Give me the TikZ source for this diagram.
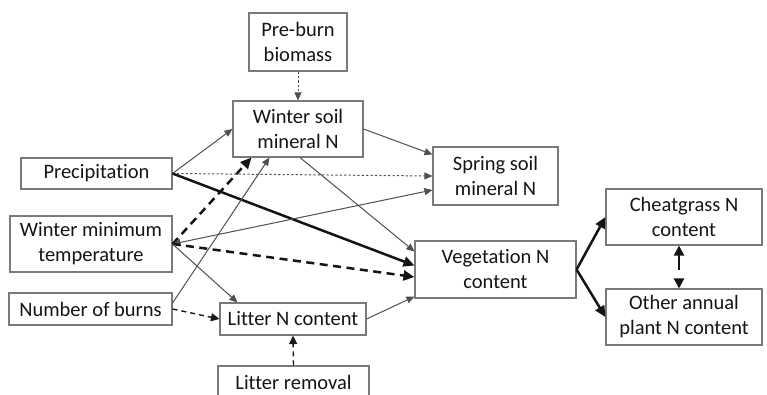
\documentclass[tikz,border=0pt]{standalone}
\usepackage{fontspec}
\setmainfont[Ligatures=NoCommon,RawFeature={-liga;-clig;-calt}]{Carlito}
\usetikzlibrary{arrows.meta,calc}
\definecolor{boxline}{HTML}{7A7A7A}
\definecolor{thinline}{HTML}{505050}
\definecolor{txt}{HTML}{151515}
\begin{document}
\begin{tikzpicture}[x=1pt,y=-1pt,
  box/.style={draw=boxline,line width=1.1pt,text=txt,align=center,inner sep=0pt,
    font=\fontsize{20.5}{25}\selectfont},
  thin/.style={draw=thinline,line width=1pt,-{Triangle[length=8pt,width=7pt]}},
  thindot/.style={thin,dash pattern=on 2.2pt off 2.2pt},
  thick/.style={draw=black!92,line width=2.5pt,-{Triangle[length=11pt,width=10pt]}},
  thickdash/.style={thick,dash pattern=on 8pt off 5.5pt},
  meddash/.style={draw=black!90,line width=1.4pt,dash pattern=on 5pt off 4pt,-{Triangle[length=8.5pt,width=8pt]}},
]
\useasboundingbox (0,0) rectangle (767,394);
\fill[white] (0,0) rectangle (767,394);

\node[box,minimum width=98pt,minimum height=58pt] (pre) at (298,42) {Pre-burn\\biomass};
\node[box,minimum width=130pt,minimum height=56pt] (wsoil) at (298,129) {Winter soil\\mineral N};
\node[box,minimum width=151pt,minimum height=31pt] (precip) at (96.5,173.5) {Precipitation};
\node[box,minimum width=125pt,minimum height=58pt] (spring) at (495.5,176) {Spring soil\\mineral N};
\node[box,minimum width=162pt,minimum height=56pt] (wmin) at (91,244) {Winter minimum\\temperature};
\node[box,minimum width=163pt,minimum height=32pt] (burns) at (90.5,309) {Number of burns};
\node[box,minimum width=146pt,minimum height=32pt] (litter) at (293,319) {Litter N content};
\node[box,minimum width=151pt,minimum height=32pt] (removal) at (293.5,382) {Litter removal};
\node[box,minimum width=161pt,minimum height=57pt] (veg) at (495.5,269.5) {Vegetation N\\content};
\node[box,minimum width=156pt,minimum height=56pt] (cheat) at (684,217) {Cheatgrass N\\content};
\node[box,minimum width=156pt,minimum height=56pt] (other) at (684,317) {Other annual\\plant N content};

% connectors
\draw[thindot] (pre.south) -- (wsoil.north);
\draw[thin] (precip.east) -- (wsoil.west);
\draw[thindot] (precip.east) -- (spring.west);
\draw[thick] (precip.east) -- ($(veg.west)+(0,-4)$);
\draw[thickdash] (wmin.east) -- ($(wsoil.south west)+(19,0)$);
\draw[thin] ($(burns.east)+(0,-6)$) -- ($(wsoil.south west)+(37,0)$);
\draw[thin,{Triangle[length=8pt,width=7pt]}-{Triangle[length=8pt,width=7pt]}] (wmin.east) -- ($(spring.west)+(0,14)$);
\draw[thickdash] (wmin.east) -- ($(veg.west)+(0,7.5)$);
\draw[thin] (wmin.east) -- ($(litter.north west)+(18,0)$);
\draw[meddash] (burns.east) -- (litter.west);
\draw[meddash] (removal.north) -- (litter.south);
\draw[thin] (litter.east) -- ($(veg.south west)+(0,-2)$);
\draw[thin] ($(wsoil.south)+(2,0)$) -- ($(veg.north west)+(0,11)$);
\draw[thin] (wsoil.east) -- ($(spring.north west)+(0,8)$);
\draw[thick] (veg.east) -- (cheat.west);
\draw[thick] (veg.east) -- (other.west);
\draw[draw=black!92,line width=2.2pt,dash pattern=on 15pt off 14pt,{Triangle[length=10pt,width=10pt]}-{Triangle[length=10pt,width=10pt]}] ($(cheat.south)+(-5,0)$) -- ($(other.north)+(-5,0)$);
\end{tikzpicture}
\end{document}
